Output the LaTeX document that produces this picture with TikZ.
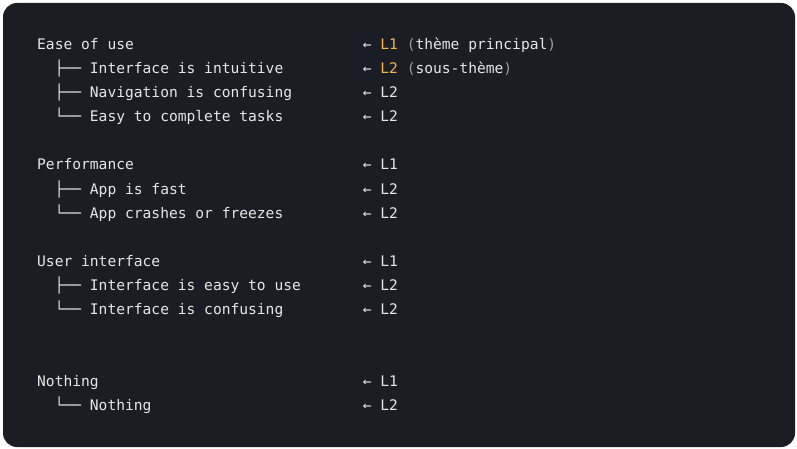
\documentclass[tikz,border=0pt]{standalone}
\usepackage{fontspec}
\setmonofont{DejaVu Sans Mono}
\usepackage{tikz}

\definecolor{codebg}{HTML}{1A1D24}
\definecolor{codefg}{HTML}{E6E6E6}
\definecolor{lvlhi}{HTML}{F2B54A}
\definecolor{parenfg}{HTML}{9A9EA8}

\begin{document}
\begin{tikzpicture}[
  x=1pt, y=-1pt,
  item/.style={anchor=base west, inner sep=0pt, text=codefg, font=\ttfamily\fontsize{14.6}{17}\selectfont},
  tag/.style={item},
  hi/.style={text=lvlhi}
]
  \useasboundingbox (0,0) rectangle (797,449);
  \fill[white] (0,0) rectangle (797,449);
  \fill[codebg, rounded corners=14pt] (3,3) rectangle (795,447);

  % ease of use
  \node[item] (ease) at (37,50) {Ease of use};
  \node[item] (ease-a) at (54.6,74) {├── Interface is intuitive};
  \node[item] (ease-b) at (54.6,98) {├── Navigation is confusing};
  \node[item] (ease-c) at (54.6,122) {└── Easy to complete tasks};
  \node[tag] (ease-t) at (362.6,50) {← \textcolor{lvlhi}{L1} \textcolor{parenfg}{(}thème principal\textcolor{parenfg}{)}};
  \node[tag] (ease-at) at (362.6,74) {← \textcolor{lvlhi}{L2} \textcolor{parenfg}{(}sous-thème\textcolor{parenfg}{)}};
  \node[tag] (ease-bt) at (362.6,98) {← L2};
  \node[tag] (ease-ct) at (362.6,122) {← L2};

  % performance
  \node[item] (perf) at (37,170) {Performance};
  \node[item] (perf-a) at (54.6,194) {├── App is fast};
  \node[item] (perf-b) at (54.6,218) {└── App crashes or freezes};
  \node[tag] (perf-t) at (362.6,170) {← L1};
  \node[tag] (perf-at) at (362.6,194) {← L2};
  \node[tag] (perf-bt) at (362.6,218) {← L2};

  % user interface
  \node[item] (ui) at (37,266) {User interface};
  \node[item] (ui-a) at (54.6,290) {├── Interface is easy to use};
  \node[item] (ui-b) at (54.6,314) {└── Interface is confusing};
  \node[tag] (ui-t) at (362.6,266) {← L1};
  \node[tag] (ui-at) at (362.6,290) {← L2};
  \node[tag] (ui-bt) at (362.6,314) {← L2};

  % nothing
  \node[item] (none) at (37,386) {Nothing};
  \node[item] (none-a) at (54.6,410) {└── Nothing};
  \node[tag] (none-t) at (362.6,386) {← L1};
  \node[tag] (none-at) at (362.6,410) {← L2};
\end{tikzpicture}
\end{document}
